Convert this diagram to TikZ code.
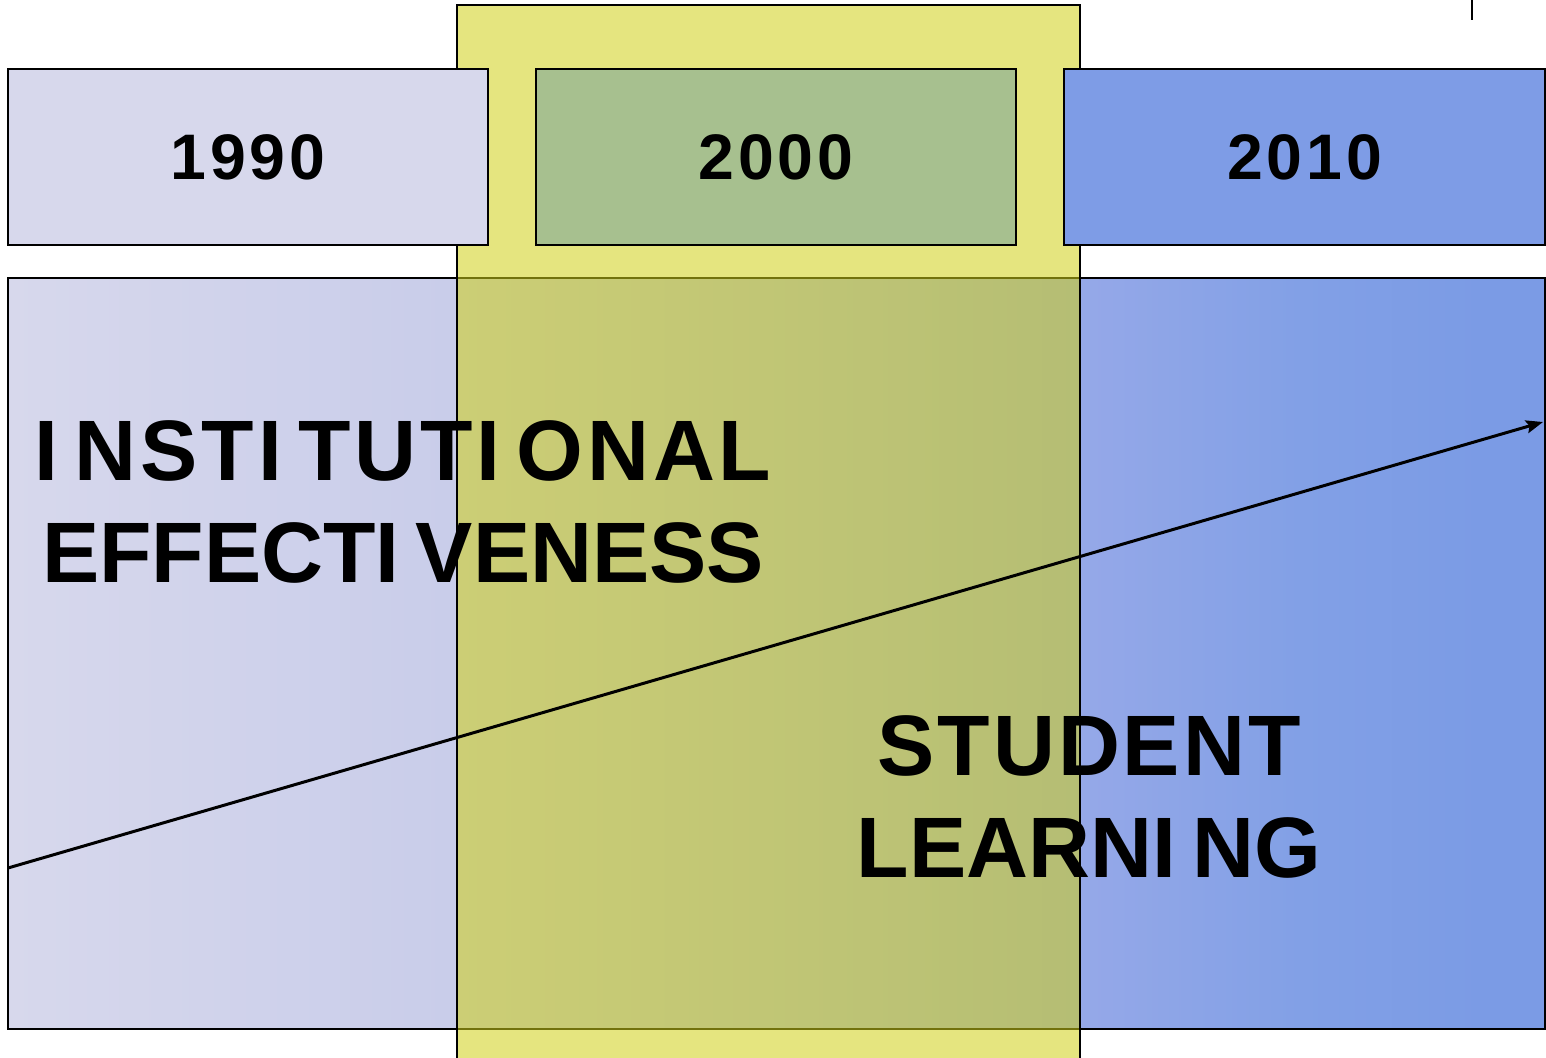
\documentclass[tikz,border=0pt]{standalone}
\usepackage{fontspec}
\setsansfont{Liberation Sans}
\newfontfamily\yearfont{Liberation Sans}[LetterSpace=6]
\usetikzlibrary{arrows.meta}
\definecolor{lavL}{HTML}{D7D8EC}
\definecolor{lavM}{HTML}{C9CDEA}
\definecolor{bluM}{HTML}{95A8E8}
\definecolor{bluR}{HTML}{82A0E6}
\definecolor{bluE}{HTML}{7B9BE5}
\definecolor{sage}{HTML}{A7C08F}
\definecolor{sky}{HTML}{7E9CE6}
\definecolor{mustard}{HTML}{D0D016}
\pgfdeclarehorizontalshading{eraband}{100bp}{color(0bp)=(lavL); color(25bp)=(lavL); color(39.4bp)=(lavM); color(60bp)=(bluM); color(67bp)=(bluR); color(73bp)=(bluE); color(100bp)=(bluE)}
\newcommand{\wideI}{I\kern0.19em\relax}
\newcommand{\spaced}[2]{{\addfontfeatures{LetterSpace=#1}#2}}
\tikzset{
  yearbox/.style={draw, line width=0.6pt, minimum width=4.8cm, minimum height=1.76cm, inner sep=0pt,
    font=\yearfont\bfseries\fontsize{18.3}{22}\selectfont},
  bigword/.style={align=center, inner sep=0pt, font=\sffamily\bfseries\fontsize{24.4}{29}\selectfont}
}
\begin{document}
\begin{tikzpicture}[x=0.01cm, y=-0.01cm]
\useasboundingbox (0,0) rectangle (1546,1058);
\shade[shading=eraband, draw, line width=0.6pt] (8,278) rectangle (1545,1029);
\draw[line width=0.6pt, fill=mustard, fill opacity=0.55] (457,5) rectangle (1080,1075);
\draw[line width=0.6pt] (1472,0) -- (1472,20);
\node[yearbox, fill=lavL] (y1990) at (248,157) {1990};
\node[yearbox, fill=sage] (y2000) at (776,157) {2000};
\node[yearbox, fill=sky] (y2010) at (1304.5,157) {2010};
\node[bigword] (inst) at (403,502) {\spaced{4.5}{\wideI NST\wideI TUT\wideI ONAL}\\EFFECT\wideI VENESS};
\node[bigword] (stud) at (1089,797) {\spaced{3.5}{STUDENT}\\LEARN\wideI NG};
\coordinate (trendL) at (8,868);
\coordinate (trendR) at (1543,422);
\draw[line width=0.85pt, -{Stealth[length=0.17cm, width=0.13cm, inset=0.03cm]}] (trendL) -- (trendR);
\end{tikzpicture}
\end{document}
